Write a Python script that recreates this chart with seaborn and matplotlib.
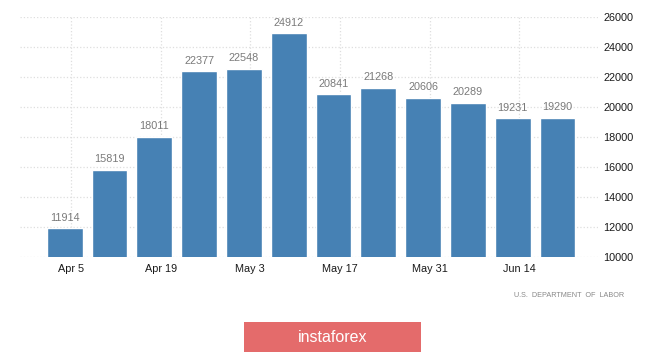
import numpy as np
import pandas as pd
import seaborn as sns
import matplotlib.pyplot as plt
from matplotlib.patches import Rectangle

# weekly values (bars), dated Apr 4 .. Jun 20
weeks = ['Apr 4', 'Apr 11', 'Apr 18', 'Apr 25', 'May 2', 'May 9',
         'May 16', 'May 23', 'May 30', 'Jun 6', 'Jun 13', 'Jun 20']
values = [11914, 15819, 18011, 22377, 22548, 24912,
          20841, 21268, 20606, 20289, 19231, 19290]
tick_labels = ['Apr 5', 'Apr 19', 'May 3', 'May 17', 'May 31', 'Jun 14']
y_ticks = [10000, 12000, 14000, 16000, 18000, 20000, 22000, 24000, 26000]

df = pd.DataFrame({'week': weeks, 'value': values})

sns.set_style('white')
plt.rcParams['font.family'] = ['Liberation Sans', 'DejaVu Sans']

fig = plt.figure(figsize=(6.65, 3.53), dpi=100)
ax = fig.add_axes([0.030, 0.272, 0.869, 0.680])

sns.barplot(data=df, x='week', y='value', color='#4681b4',
            saturation=1, width=0.8, ax=ax, zorder=2)

# value labels above the bars
for i, v in enumerate(values):
    ax.annotate(f'{v}', (i, v), xytext=(0, 4), textcoords='offset points',
                ha='center', va='bottom', fontsize=7.8, color='#7a7a7a')

ax.set_ylim(10000, 26000)
ax.set_xlim(-1.0, 11.9)
ax.set_yticks(y_ticks)
ax.yaxis.tick_right()
ax.tick_params(axis='y', length=0, pad=4, labelsize=7.8, labelcolor='#1a1a1a')
# ticks fall on the Sunday after each bar's date (1/7 of a week)
ax.set_xticks([2 * k + 1 / 7 for k in range(len(tick_labels))])
ax.set_xticklabels(tick_labels)
ax.tick_params(axis='x', length=0, pad=5, labelsize=7.8, labelcolor='#1a1a1a')
ax.set_xlabel('')
ax.set_ylabel('')

ax.grid(True, color='#dedede', linestyle=':', linewidth=0.9, zorder=0)
ax.set_axisbelow(True)
for s in ax.spines.values():
    s.set_visible(False)

fig.text(0.939, 0.163, 'U.S.  DEPARTMENT  OF  LABOR', ha='right', va='center',
         fontsize=5.2, color='#888888')

fig.patches.append(Rectangle((244 / 665, 1 - 352 / 353), 177 / 665, 30 / 353,
                             transform=fig.transFigure, facecolor='#e46b6b',
                             edgecolor='none'))
fig.text(333 / 665, 1 - 337 / 353, 'instaforex', ha='center', va='center',
         fontsize=11.5, color='white')

plt.savefig('out.png', dpi=100)
